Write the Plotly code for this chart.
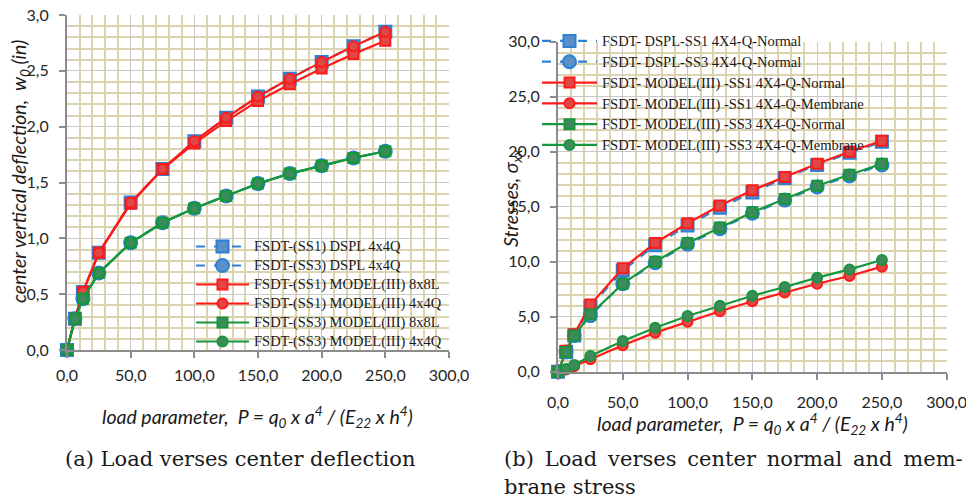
import plotly.graph_objects as go

# ---------------- data ----------------
P = [0, 6.25, 12.5, 25, 50, 75, 100, 125, 150, 175, 200, 225, 250]

# (a) center deflection w0 (in)
defl_ss1_dspl = [0, 0.28, 0.52, 0.87, 1.32, 1.62, 1.87, 2.08, 2.27, 2.43, 2.58, 2.72, 2.85]
defl_ss3_dspl = [0, 0.28, 0.46, 0.69, 0.96, 1.14, 1.27, 1.38, 1.49, 1.58, 1.65, 1.72, 1.78]
defl_ss1_8x8L = [0, 0.28, 0.52, 0.87, 1.31, 1.62, 1.85, 2.05, 2.23, 2.38, 2.52, 2.65, 2.77]
defl_ss1_4x4Q = [0, 0.28, 0.52, 0.87, 1.32, 1.62, 1.87, 2.08, 2.27, 2.43, 2.58, 2.72, 2.85]
defl_ss3_8x8L = [0, 0.28, 0.46, 0.69, 0.96, 1.14, 1.27, 1.38, 1.49, 1.58, 1.65, 1.72, 1.78]
defl_ss3_4x4Q = [0, 0.28, 0.46, 0.69, 0.96, 1.14, 1.27, 1.38, 1.49, 1.58, 1.65, 1.72, 1.78]

# (b) center stresses sigma_xx
str_dspl_ss1_normal = [0, 1.8, 3.3, 5.9, 9.2, 11.5, 13.3, 14.9, 16.3, 17.6, 18.8, 19.9, 20.9]
str_dspl_ss3_normal = [0, 1.8, 3.3, 5.1, 8.0, 9.9, 11.6, 13.0, 14.4, 15.6, 16.8, 17.8, 18.8]
str_m3_ss1_normal = [0, 1.9, 3.4, 6.1, 9.4, 11.7, 13.5, 15.1, 16.5, 17.7, 18.9, 20.0, 21.0]
str_m3_ss1_membrane = [0, 0.2, 0.5, 1.13, 2.4, 3.55, 4.55, 5.5, 6.4, 7.2, 8.0, 8.7, 9.55]
str_m3_ss3_normal = [0, 1.8, 3.3, 5.2, 8.0, 10.0, 11.7, 13.1, 14.5, 15.7, 16.9, 17.9, 18.9]
str_m3_ss3_membrane = [0, 0.25, 0.6, 1.43, 2.8, 4.0, 5.06, 6.0, 6.9, 7.7, 8.55, 9.3, 10.15]

names_a = ["FSDT-(SS1) DSPL 4x4Q", "FSDT-(SS3) DSPL 4x4Q",
           "FSDT-(SS1) MODEL(III) 8x8L", "FSDT-(SS1) MODEL(III) 4x4Q",
           "FSDT-(SS3) MODEL(III) 8x8L", "FSDT-(SS3) MODEL(III) 4x4Q"]
names_b = ["FSDT- DSPL-SS1 4X4-Q-Normal", "FSDT- DSPL-SS3 4X4-Q-Normal",
           "FSDT- MODEL(III) -SS1 4X4-Q-Normal", "FSDT- MODEL(III) -SS1 4X4-Q-Membrane",
           "FSDT- MODEL(III) -SS3 4X4-Q-Normal", "FSDT- MODEL(III) -SS3 4X4-Q-Membrane"]

BLUE = "#2f7fd2"
RED = "#ff1a1a"
GREEN = "#16963f"

styles = [
    dict(color=BLUE, dash="dash", symbol="square", fill="#5a8fc8", size=12),
    dict(color=BLUE, dash="dash", symbol="circle", fill="#5a8fc8", size=13),
    dict(color=RED, dash="solid", symbol="square", fill="#e04848", size=10),
    dict(color=RED, dash="solid", symbol="circle", fill="#e04848", size=10),
    dict(color=GREEN, dash="solid", symbol="square", fill="#3f8a5a", size=10),
    dict(color=GREEN, dash="solid", symbol="circle", fill="#3f8a5a", size=10),
]

fig = go.Figure()

series_a = [defl_ss1_dspl, defl_ss3_dspl, defl_ss1_8x8L, defl_ss1_4x4Q, defl_ss3_8x8L, defl_ss3_4x4Q]
series_b = [str_dspl_ss1_normal, str_dspl_ss3_normal, str_m3_ss1_normal,
            str_m3_ss1_membrane, str_m3_ss3_normal, str_m3_ss3_membrane]

def lbl(t):
    return "<span style='font-size:14.5px'>" + t + "</span>"

for name, ys, st in zip(names_a, series_a, styles):
    fig.add_trace(go.Scatter(
        x=P, y=ys, name=lbl(name), mode="lines+markers", xaxis="x", yaxis="y",
        legend="legend", cliponaxis=False,
        line=dict(color=st["color"], width=2.2, dash=st["dash"]),
        marker=dict(symbol=st["symbol"], size=st["size"], color=st["fill"],
                    line=dict(color=st["color"], width=2))))

for name, ys, st in zip(names_b, series_b, styles):
    fig.add_trace(go.Scatter(
        x=P, y=ys, name=lbl(name), mode="lines+markers", xaxis="x2", yaxis="y2",
        legend="legend2", cliponaxis=False,
        line=dict(color=st["color"], width=2.2, dash=st["dash"]),
        marker=dict(symbol=st["symbol"], size=st["size"], color=st["fill"],
                    line=dict(color=st["color"], width=2))))

W, H = 966, 504
TICKFONT = dict(family="Lato, Carlito, sans-serif", size=16, color="#262626")
GRID = "#c8c8c8"
MINOR = dict(showgrid=True, gridcolor="#dcd3b0", gridwidth=1.6, ticks="")

def xaxis_cfg(domain, anchor, standoff):
    return dict(domain=domain, anchor=anchor, range=[0, 300], dtick=50, tickformat=".1f",
                showgrid=True, gridcolor=GRID, gridwidth=1.3, zeroline=False,
                showline=True, linecolor="#8c8c8c", linewidth=2, automargin=False,
                ticks="outside", ticklen=6, tickcolor="#8c8c8c", tickwidth=1.5,
                ticklabelstandoff=standoff, tickfont=TICKFONT, ticklabeloverflow="allow",
                minor=dict(dtick=10, **MINOR), fixedrange=True)

def yaxis_cfg(domain, anchor, rng, dt, mdt, standoff):
    return dict(domain=domain, anchor=anchor, range=rng, dtick=dt, tickformat=".1f",
                showgrid=True, gridcolor=GRID, gridwidth=1.3, zeroline=False,
                showline=True, linecolor="#8c8c8c", linewidth=2, automargin=False,
                ticks="outside", ticklen=6, tickcolor="#8c8c8c", tickwidth=1.5,
                ticklabelstandoff=standoff, tickfont=TICKFONT, ticklabeloverflow="allow",
                minor=dict(dtick=mdt, **MINOR), fixedrange=True)

def px(v):
    return v / W

def py(v):
    return 1 - v / H

fig.update_layout(
    width=W, height=H, margin=dict(l=0, r=0, t=0, b=0, autoexpand=False),
    paper_bgcolor="white", plot_bgcolor="white",
    separators=",.",
    xaxis=xaxis_cfg([px(67), px(449)], "y", 4),
    yaxis=yaxis_cfg([py(350), py(15)], "x", [0, 3.0], 0.5, 0.1, 7),
    xaxis2=xaxis_cfg([px(558), px(946.7)], "y2", 9),
    yaxis2=yaxis_cfg([py(371.7), py(41.7)], "x2", [0, 30], 5, 1, 7),
    legend=dict(x=px(191), y=py(232), xanchor="left", yanchor="top",
                bgcolor="rgba(0,0,0,0)", itemwidth=53, tracegroupgap=0,
                font=dict(family="Liberation Serif, Times New Roman, serif", size=12, color="#1a1a1a")),
    legend2=dict(x=px(537), y=py(25.5), xanchor="left", yanchor="top",
                 bgcolor="rgba(0,0,0,0)", itemwidth=55, tracegroupgap=0,
                 font=dict(family="Liberation Serif, Times New Roman, serif", size=13.7, color="#1a1a1a")),
    showlegend=True,
)

TITLEFONT = dict(family="Lato, Carlito, sans-serif", size=19.5, color="#1a1a1a")
xtitle = "<i>load parameter,  P = q<sub>0</sub> x a<sup>4</sup> / (E<sub>22</sub> x h<sup>4</sup>)</i>"
CAPFONT = dict(family="DejaVu Serif, serif", size=21, color="#1a1a1a")
TS = "\u2009"
cap_b1 = (" " + TS).join(["(b)", "Load", "verses", "center", "normal", "and", "mem-"])
ann = [
    dict(x=px(257), y=py(417), text=xtitle, showarrow=False, font=TITLEFONT,
         xanchor="center", yanchor="middle"),
    dict(x=px(752), y=py(424), text=xtitle, showarrow=False, font=TITLEFONT,
         xanchor="center", yanchor="middle"),
    dict(x=px(20), y=py(172), text="<i>center vertical deflection,  w<sub>0</sub> (in)</i>",
         showarrow=False, font=TITLEFONT, textangle=-90, xanchor="center", yanchor="middle"),
    dict(x=px(512), y=py(198), text="<i>Stresses, σ<sub>xx</sub></i>",
         showarrow=False, font=TITLEFONT, textangle=-90, xanchor="center", yanchor="middle"),
    dict(x=px(240), y=py(459), text="(a) Load verses center deflection", showarrow=False,
         font=CAPFONT, xanchor="center", yanchor="middle"),
    dict(x=px(502), y=py(459), text=cap_b1, showarrow=False,
         font=CAPFONT, xanchor="left", yanchor="middle"),
    dict(x=px(502), y=py(487), text="brane stress", showarrow=False,
         font=CAPFONT, xanchor="left", yanchor="middle"),
]
for a in ann:
    a.update(xref="paper", yref="paper")
fig.update_layout(annotations=ann)

fig.write_html("out.html", config={"displayModeBar": False},
               post_script="document.body.style.margin='0';document.body.style.padding='0';")
